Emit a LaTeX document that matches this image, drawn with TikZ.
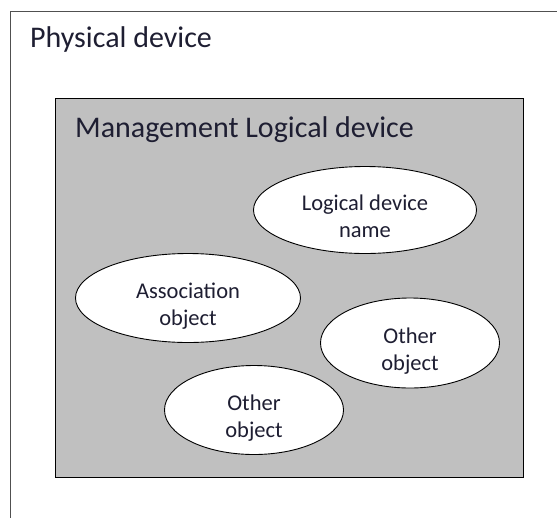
\documentclass[tikz,border=0pt]{standalone}
\usepackage{fontspec}
\setmainfont{Carlito}
\usepackage{tikz}
\usetikzlibrary{positioning,shapes.geometric}
\definecolor{ink}{HTML}{1E1E32}
\definecolor{frame}{HTML}{505050}
\definecolor{panel}{HTML}{C0C0C0}

\begin{document}
\begin{tikzpicture}[x=1pt,y=-1pt,
  box/.style={draw=frame,line width=1.3pt,anchor=north west,inner sep=0},
  title/.style={anchor=base west,inner sep=0,text=ink,font=\fontsize{30}{36}\selectfont},
  oval/.style={draw=black,line width=0.9pt,fill=white,ellipse,inner sep=0},
  lbl/.style={anchor=base,inner sep=0,align=center,text=ink,font=\fontsize{22.5}{27}\selectfont}]
  \clip (0,0) rectangle (557,517);
  \node[box,minimum width=600pt,minimum height=560pt] (phys) at (10,11) {};
  \node[title] (physlbl) at ([shift={(20,36)}]phys.north west) {Physical device};
  \node[box,draw=black,fill=panel,minimum width=468pt,minimum height=379pt] (mgmt) at (55,98) {};
  \node[title] (mgmtlbl) at ([shift={(20,39)}]mgmt.north west) {Management Logical device};
  \node[oval,minimum width=223pt,minimum height=87pt] (lname) at (365,210) {};
  \node[oval,minimum width=225pt,minimum height=89pt] (assoc) at (188,298) {};
  \node[oval,minimum width=179pt,minimum height=90pt] (otherA) at (410,343) {};
  \node[oval,minimum width=179pt,minimum height=89pt] (otherB) at (254,410) {};
  % label: last baseline sits one line below the centre
  \node[lbl] (lnamelbl) at ([yshift=-27pt]lname.center) {Logical device\\name};
  \node[lbl] (assoclbl) at ([yshift=-27pt]assoc.center) {Association\\object};
  \node[lbl] (otherAlbl) at ([yshift=-27pt]otherA.center) {Other\\object};
  \node[lbl] (otherBlbl) at ([yshift=-27pt]otherB.center) {Other\\object};
\end{tikzpicture}
\end{document}
